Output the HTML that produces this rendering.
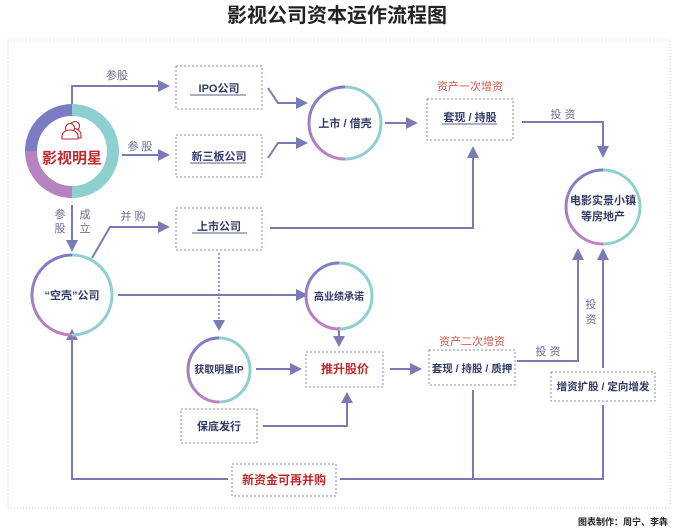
<!DOCTYPE html>
<html><head><meta charset="utf-8"><style>
html,body{margin:0;padding:0;background:#fff;}
svg{display:block;font-family:"Liberation Sans","Noto Sans CJK SC",sans-serif;}
.t{font-size:11px;font-weight:bold;fill:#333a66;text-anchor:middle;}
.r{fill:#c0282d;}
.l{font-size:11px;fill:#6a6c90;text-anchor:middle;}
.ln{stroke:#7a7bb5;stroke-width:2;fill:none;}
.bx{stroke:#8a8aa8;stroke-width:1;stroke-dasharray:2,2;fill:#fff;}
.ar{fill:#7a7bb5;}
.ul{stroke:#5a5d90;stroke-width:1;}
</style></head><body>
<svg width="673" height="530" viewBox="0 0 673 530">
<defs>
<linearGradient id="g" x1="0" y1="0" x2="0" y2="1"><stop offset="0" stop-color="#7b7cc4"/><stop offset="1" stop-color="#c080c0"/></linearGradient>
</defs>
<text x="337" y="22" style="font-size:20px;font-weight:bold;fill:#222;text-anchor:middle">影视公司资本运作流程图</text>
<rect x="8" y="40" width="662" height="468" fill="none" stroke="#ccc" stroke-width="1" stroke-dasharray="1,2"/>

<path class="ln" d="M72 104V86H160"/><path class="ar" d="M158 80L170 86L158 92Z"/>
<text class="l" x="117" y="79">参股</text>
<path class="ln" d="M122 155H160"/><path class="ar" d="M158 149L170 155L158 161Z"/>
<text class="l" x="140" y="150">参 股</text>
<path class="ln" d="M268 88L278 103H298"/><path class="ar" d="M296 97L308 103L296 109Z"/>
<path class="ln" d="M268 158L278 143H298"/><path class="ar" d="M296 137L308 143L296 149Z"/>
<path class="ln" d="M385 123H408"/><path class="ar" d="M406 117L418 123L406 129Z"/>
<path class="ln" d="M522 122H603V148"/><path class="ar" d="M597 146L603 158L609 146Z"/>
<text class="l" x="563" y="118">投 资</text>
<path class="ln" d="M72 205V242"/><path class="ar" d="M66 240L72 252L78 240Z"/>
<text class="l" x="60" y="218">参</text><text class="l" x="60" y="232">股</text>
<text class="l" x="85" y="218">成</text><text class="l" x="85" y="232">立</text>
<path class="ln" d="M92 258L110 227H160"/><path class="ar" d="M158 221L170 227L158 233Z"/>
<text class="l" x="133" y="220">并 购</text>
<path class="ln" d="M270 228H473V156"/><path class="ar" d="M467 158L473 146L479 158Z"/>
<path class="ln" d="M118 295H298"/><path class="ar" d="M296 289L308 295L296 301Z"/>
<path class="ln" d="M339 327V338"/><path class="ar" d="M333 336L339 347L345 336Z"/>
<path stroke="#7a7bb5" stroke-width="1.5" stroke-dasharray="2,2" fill="none" d="M219 253V322"/><path class="ar" d="M213 320L219 331L225 320Z"/>
<path class="ln" d="M256 369H292"/><path class="ar" d="M290 363L302 369L290 375Z"/>
<path class="ln" d="M390 369H412"/><path class="ar" d="M410 363L422 369L410 375Z"/>
<path class="ln" d="M517 361H578V258"/><path class="ar" d="M572 260L578 248L584 260Z"/>
<text class="l" x="548" y="355">投 资</text>
<text class="l" x="591" y="308">投</text><text class="l" x="591" y="323">资</text>
<path class="ln" d="M603 368V258"/><path class="ar" d="M597 260L603 248L609 260Z"/>
<path class="ln" d="M263 426H347V401"/><path class="ar" d="M341 403L347 392L353 403Z"/>
<path class="ln" d="M473 390V479M603 405V479H340"/>
<path class="ln" d="M228 479H72V338"/><path class="ar" d="M66 340L72 329L78 340Z"/>

<path d="M72 110A41 41 0 0 0 31 151" stroke="#7b7cc4" stroke-width="12" fill="none"/>
<path d="M31 151A41 41 0 0 0 72 192" stroke="#b583c0" stroke-width="12" fill="none"/>
<path d="M72 110A41 41 0 0 1 72 192" stroke="#8ecfcf" stroke-width="12" fill="none"/>
<g stroke="#c0282d" stroke-width="1.1" fill="#fff">
<circle cx="75" cy="126" r="4.5"/><path d="M66 138v-3a7 6 0 0 1 15 0v3z"/>
<circle cx="70" cy="128" r="4.5"/><path d="M62 139v-3a8 6 0 0 1 16 0v3z"/>
</g>
<text x="72" y="163" style="font-size:15px;font-weight:bold;fill:#c0282d;text-anchor:middle">影视明星</text>

<g fill="none" stroke-width="3">
<path d="M345 87A36 36 0 0 0 345 159" stroke="url(#g)"/><path d="M345 87A36 36 0 0 1 345 159" stroke="#8ecfcf"/>
<path d="M603 170A37 37 0 0 0 603 244" stroke="url(#g)"/><path d="M603 170A37 37 0 0 1 603 244" stroke="#8ecfcf"/>
<path d="M72 255A40 40 0 0 0 72 335" stroke="url(#g)"/><path d="M72 255A40 40 0 0 1 72 335" stroke="#8ecfcf"/>
<path d="M339 263A33 33 0 0 0 339 329" stroke="url(#g)"/><path d="M339 263A33 33 0 0 1 339 329" stroke="#8ecfcf"/>
<path d="M219 338A31 32 0 0 0 219 402" stroke="url(#g)"/><path d="M219 338A31 32 0 0 1 219 402" stroke="#8ecfcf"/>
</g>
<text class="t" x="345" y="127">上市 / 借壳</text>
<text class="t" x="603" y="204">电影实景小镇</text><text class="t" x="603" y="220">等房地产</text>
<text class="t" x="72" y="299">“空壳”公司</text>
<text class="t" x="339" y="300" style="font-size:10px">高业绩承诺</text>
<text class="t" x="219" y="373" style="font-size:10px">获取明星IP</text>

<rect class="bx" x="176" y="66" width="86" height="43"/><text class="t" x="219" y="92">IPO公司</text><line class="ul" x1="190" y1="95" x2="246" y2="95"/>
<rect class="bx" x="176" y="135" width="86" height="42"/><text class="t" x="219" y="160">新三板公司</text><line class="ul" x1="190" y1="163" x2="246" y2="163"/>
<rect class="bx" x="176" y="208" width="86" height="42"/><text class="t" x="219" y="230">上市公司</text><line class="ul" x1="192" y1="233" x2="247" y2="233"/>
<rect class="bx" x="427" y="99" width="86" height="41"/><text class="t" x="470" y="121">套现 / 持股</text><line class="ul" x1="442" y1="124" x2="497" y2="124"/>
<text x="470" y="90" style="font-size:11px;fill:#d05a50;text-anchor:middle">资产一次增资</text>
<rect class="bx" x="306" y="352" width="77" height="35"/><text class="t r" x="345" y="373" style="font-size:12px">推升股价</text>
<rect class="bx" x="429" y="350" width="86" height="35"/><text class="t" x="472" y="372" style="font-size:10.5px">套现 / 持股 / 质押</text>
<text x="472" y="345" style="font-size:11px;fill:#d05a50;text-anchor:middle">资产二次增资</text>
<rect class="bx" x="551" y="372" width="104" height="29"/><text class="t" x="603" y="390" style="font-size:10.5px">增资扩股 / 定向增发</text>
<rect class="bx" x="181" y="409" width="76" height="34"/><text class="t" x="219" y="430">保底发行</text>
<rect class="bx" x="232" y="464" width="104" height="32"/><text class="t r" x="284" y="484" style="font-size:12px">新资金可再并购</text>

<text x="668" y="525" style="font-size:9px;font-weight:bold;fill:#222;text-anchor:end">图表制作：周宁、李犇</text>
</svg>
</body></html>
